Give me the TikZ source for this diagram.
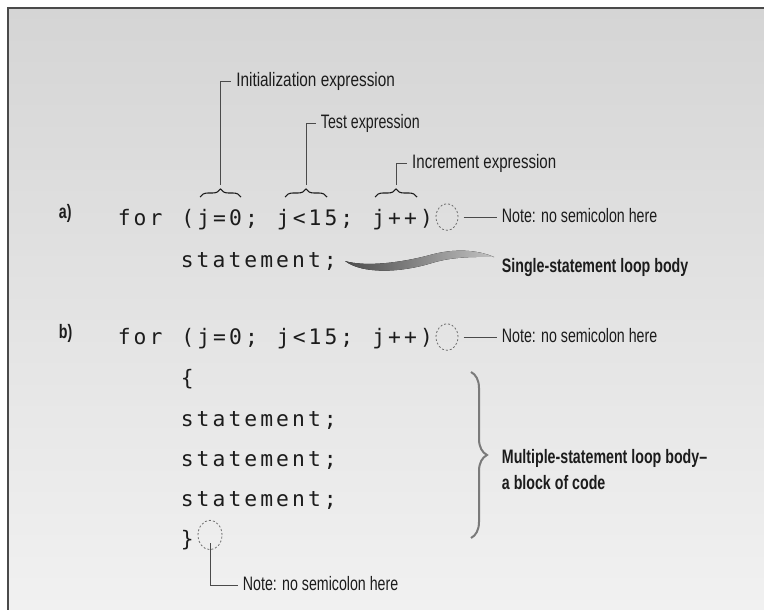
\documentclass[tikz,border=0pt]{standalone}
\usepackage{fontspec}
\usepackage{xcolor}
\usepackage{tikz}
\usetikzlibrary{shapes.geometric,decorations.pathreplacing}

\setmainfont{Liberation Sans}
\newfontfamily\lblfont[FakeStretch=0.73]{Liberation Sans}
\newfontfamily\codefont{DejaVu Sans Mono}

\newlength\cpitch
\setlength\cpitch{11.93pt}
\newcommand\monoline[1]{\monostep#1\relax}
\def\monostep#1{\ifx\relax#1\else\makebox[\cpitch][c]{#1}\expandafter\monostep\fi}

\definecolor{inkgray}{HTML}{1C1C1C}
\definecolor{framegray}{HTML}{4A4A4A}
\definecolor{bracegray}{HTML}{7A7A7A}
\definecolor{dashgray}{HTML}{6E6E6E}
\definecolor{bgtop}{HTML}{D5D5D5}
\definecolor{bgbot}{HTML}{F1F1F1}
\definecolor{swdark}{HTML}{4C4C4C}
\definecolor{swlight}{HTML}{C2C2C2}

\tikzset{
  code/.style={font=\codefont\fontsize{16}{19}\selectfont, text=inkgray, inner sep=0pt, anchor=base west},
  lbl/.style={font=\lblfont\fontsize{14.6}{19.5}\selectfont, text=inkgray, inner ysep=0pt, inner xsep=3.5pt, text height=10.5pt, text depth=3pt, anchor=west},
  heavy/.style={lbl, font=\lblfont\bfseries\fontsize{14.6}{19.5}\selectfont},
  ovl/.style={ellipse, draw=dashgray, dash pattern=on 1.5pt off 1.5pt, line width=0.6pt, minimum width=16.5pt, minimum height=20pt, inner sep=0pt},
  lead/.style={draw=framegray, line width=0.75pt},
  smallbrace/.style={decorate, decoration={brace, amplitude=6pt}, line width=0.8pt, draw=inkgray},
  bigbrace/.style={decorate, decoration={brace, amplitude=12pt}, line width=1.5pt, draw=bracegray}
}

\begin{document}
\begin{tikzpicture}[x=0.75pt,y=0.75pt,yscale=-1,xscale=1]

\useasboundingbox (0,0) rectangle (764,610);

\fill[white] (0,0) rectangle (764,610);

\fill[top color=bgtop, bottom color=bgbot] (8,8) rectangle (764,610);

\draw[framegray, line width=1.1pt] (8,610) -- (8,8) -- (764,8);

% a) single statement
\node[heavy, anchor=base west] (taga) at (54,218) {a)};

\node[code] (fora) at (116,225) {\monoline{for~(j=0;~j<15;~j++)}};

\node[code] (stma) at (179,267) {\monoline{statement;}};

\coordinate (brA1) at (200,197);
\coordinate (brA2) at (241,197);
\coordinate (tipA) at (220,185);

\coordinate (brB1) at (285,197);
\coordinate (brB2) at (327,197);
\coordinate (tipB) at (306,185);

\coordinate (brC1) at (375,197);
\coordinate (brC2) at (417,197);
\coordinate (tipC) at (396,185);

\draw[smallbrace] (brA1) -- (brA2);

\draw[smallbrace] (brB1) -- (brB2);

\draw[smallbrace] (brC1) -- (brC2);

\node[lbl, xscale=1.08] (init) at (231,82) {Initialization expression};

\node[lbl] (test) at (316,123) {Test expression};

\node[lbl, xscale=1.06] (incr) at (407,163) {Increment expression};

\draw[lead] (tipA) |- (init.west);

\draw[lead] (tipB) |- (test.west);

\draw[lead] (tipC) |- (incr.west);

\node[ovl] (ova) at (447,217) {};

\node[lbl] (nota) at (497,217) {Note: no semicolon here};

\draw[lead, shorten <=4pt] (ova.east) -- (nota.west);

\fill[left color=swdark, middle color=swdark!90!swlight, right color=swlight] (345,261) .. controls (365,267) and (400,263) .. (430,255) .. controls (455,248) and (478,250) .. (494,257) .. controls (478,257) and (455,256) .. (432,263) .. controls (400,273) and (362,274) .. (345,261) -- cycle;

\node[heavy] (sgl) at (497,267) {Single-statement loop body};

% b) block of statements
\node[heavy, anchor=base west] (tagb) at (54,338) {b)};

\node[code] (forb) at (116,344) {\monoline{for~(j=0;~j<15;~j++)}};

\node[ovl] (ovb) at (447,337) {};

\node[lbl] (notb) at (497,337) {Note: no semicolon here};

\draw[lead, shorten <=4pt] (ovb.east) -- (notb.west);

\node[code] (opn) at (179,385) {\monoline{\{}};

\node[code] (stm1) at (179,426) {\monoline{statement;}};

\node[code] (stm2) at (179,466) {\monoline{statement;}};

\node[code] (stm3) at (179,506) {\monoline{statement;}};

\node[code] (cls) at (179,546) {\monoline{\}}};

\node[ovl, minimum width=18pt, minimum height=22pt] (ovc) at (210,535) {};

\node[lbl] (notc) at (238,585) {Note: no semicolon here};

\draw[lead] ([yshift=-5pt]ovc.south) |- (notc.west);

\coordinate (bgT) at (471,372);
\coordinate (bgB) at (471,538);

\draw[bigbrace] (bgT) -- (bgB);

\node[heavy] (multa) at (497,458) {Multiple-statement loop body–};

\node[heavy] (multb) at (497,484) {a block of code};

\end{tikzpicture}
\end{document}
